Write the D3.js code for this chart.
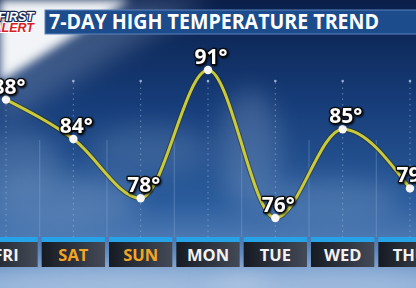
<!DOCTYPE html>
<html>
<head>
<meta charset="utf-8">
<script src="https://cdn.jsdelivr.net/npm/d3@7"></script>
<style>
  html, body { margin: 0; padding: 0; background: #0b2350; }
  svg { display: block; }
</style>
</head>
<body>
<svg id="chart" width="416" height="288"></svg>
<script>
// data read from the graphic
const days = ["FRI", "SAT", "SUN", "MON", "TUE", "WED", "THU"];
const highs = [88, 84, 78, 91, 76, 85, 79];
const weekendDays = ["SAT", "SUN"];
const title = "7-DAY HIGH TEMPERATURE TREND";

const W = 416, H = 288;
const svg = d3.select("#chart");
const defs = svg.append("defs");

// sky background
const sky = defs.append("linearGradient").attr("id", "sky")
  .attr("x1", 0).attr("y1", 0).attr("x2", 0).attr("y2", 1);
sky.append("stop").attr("offset", "0%").attr("stop-color", "#0a1f4a");
sky.append("stop").attr("offset", "35%").attr("stop-color", "#163c78");
sky.append("stop").attr("offset", "70%").attr("stop-color", "#2b5c9c");
sky.append("stop").attr("offset", "100%").attr("stop-color", "#7aa0d0");

defs.append("filter").attr("id", "blur").attr("x", "-50%").attr("y", "-50%")
  .attr("width", "200%").attr("height", "200%")
  .append("feGaussianBlur").attr("stdDeviation", 12);
defs.append("filter").attr("id", "blurS").attr("x", "-50%").attr("y", "-50%")
  .attr("width", "200%").attr("height", "200%")
  .append("feGaussianBlur").attr("stdDeviation", 5);

const shadow = defs.append("filter").attr("id", "shadow")
  .attr("x", "-30%").attr("y", "-30%").attr("width", "160%").attr("height", "160%");
shadow.append("feDropShadow").attr("dx", 1).attr("dy", 1)
  .attr("stdDeviation", 1.2).attr("flood-color", "#000").attr("flood-opacity", 0.9);

const box = defs.append("linearGradient").attr("id", "box")
  .attr("x1", 0).attr("y1", 0).attr("x2", 1).attr("y2", 0);
box.append("stop").attr("offset", "0%").attr("stop-color", "#161a22");
box.append("stop").attr("offset", "100%").attr("stop-color", "#434a57");

svg.append("rect").attr("width", W).attr("height", H).attr("fill", "url(#sky)");

// clouds and light streaks
const bg = svg.append("g");
bg.append("polygon").attr("points", "0,0 210,0 0,125")
  .attr("fill", "#7088ae").attr("opacity", 0.45).attr("filter", "url(#blur)");
bg.append("polygon").attr("points", "0,0 130,0 0,82")
  .attr("fill", "#f2f4f7").attr("filter", "url(#blurS)");
[[60, 200, 80, 25, 0.25], [250, 150, 30, 60, 0.22], [330, 200, 70, 20, 0.2],
 [150, 150, 60, 25, 0.15], [120, 285, 150, 22, 0.6], [330, 285, 120, 22, 0.55],
 [20, 160, 40, 30, 0.2]]
  .forEach(c => bg.append("ellipse").attr("cx", c[0]).attr("cy", c[1])
    .attr("rx", c[2]).attr("ry", c[3]).attr("fill", "#bcd0e8")
    .attr("opacity", c[4]).attr("filter", "url(#blur)"));

// scales
const x = d3.scalePoint().domain(days).range([6, 410]);
const y = d3.scaleLinear().domain([76, 91]).range([218, 70]);
const step = x.step();

// grid lines
const grid = svg.append("g");
grid.selectAll("line.day").data(days).join("line").attr("class", "day")
  .attr("x1", d => x(d)).attr("x2", d => x(d))
  .attr("y1", 82).attr("y2", 237)
  .attr("stroke", "#9fbbe0").attr("stroke-width", 1)
  .attr("stroke-dasharray", "1.5,4").attr("opacity", 0.55);
grid.selectAll("circle.top").data(days).join("circle").attr("class", "top")
  .attr("cx", d => x(d)).attr("cy", 81).attr("r", 1.3)
  .attr("fill", "#b8cdea").attr("opacity", 0.8);
grid.selectAll("line.mid").data(days).join("line").attr("class", "mid")
  .attr("x1", d => x(d) + step / 2).attr("x2", d => x(d) + step / 2)
  .attr("y1", 140).attr("y2", 237)
  .attr("stroke", "#8fb0dc").attr("stroke-width", 1.2).attr("opacity", 0.3);

// day boxes
const boxW = step - 4;
const dayG = svg.append("g").selectAll("g").data(days).join("g");
dayG.append("rect").attr("x", d => x(d) - boxW / 2).attr("y", 237)
  .attr("width", boxW).attr("height", 5).attr("fill", "#27a2e6");
dayG.append("rect").attr("x", d => x(d) - boxW / 2).attr("y", 242)
  .attr("width", boxW).attr("height", 25).attr("fill", "url(#box)");
dayG.append("text").attr("x", d => x(d)).attr("y", 261)
  .attr("text-anchor", "middle")
  .attr("font-family", "Open Sans, sans-serif").attr("font-weight", 700)
  .attr("font-size", 16.5)
  .attr("fill", d => weekendDays.includes(d) ? "#f4a623" : "#f2f2f2")
  .text(d => d);

// temperature line
const pts = days.map((d, i) => [x(d), y(highs[i])]);
const line = d3.line().curve(d3.curveMonotoneX);
svg.append("path").attr("d", line(pts)).attr("fill", "none")
  .attr("stroke", "#2a2a10").attr("stroke-opacity", 0.5).attr("stroke-width", 5);
svg.append("path").attr("d", line(pts)).attr("fill", "none")
  .attr("stroke", "#c9c93c").attr("stroke-width", 3);

svg.append("g").selectAll("circle").data(pts).join("circle")
  .attr("cx", d => d[0]).attr("cy", d => d[1]).attr("r", 4.2)
  .attr("fill", "#f7f7f7");

svg.append("g").selectAll("text").data(days).join("text")
  .attr("x", d => x(d) + 3)
  .attr("y", (d, i) => y(highs[i]) - 6)
  .attr("text-anchor", "middle")
  .attr("font-family", "Open Sans, sans-serif").attr("font-weight", 700)
  .attr("font-size", 21)
  .attr("fill", "#ffffff").attr("stroke", "#0a0a0a").attr("stroke-width", 2.5)
  .attr("paint-order", "stroke").attr("stroke-linejoin", "round")
  .attr("filter", "url(#shadow)")
  .text((d, i) => highs[i] + "°");

// title bar
svg.append("rect").attr("x", 45).attr("y", 10).attr("width", 373).attr("height", 24)
  .attr("fill", "#1c4c8c").attr("stroke", "#5b84bb").attr("stroke-width", 1);
svg.append("text").attr("x", 49).attr("y", 29)
  .attr("font-family", "Open Sans, sans-serif").attr("font-weight", 700)
  .attr("font-size", 21).attr("fill", "#ffffff")
  .attr("textLength", 330).attr("lengthAdjust", "spacingAndGlyphs")
  .text(title);

// logo (cut off at left edge)
const logo = svg.append("g").attr("font-family", "Liberation Sans, Arial, sans-serif")
  .attr("font-weight", 700).attr("font-style", "italic")
  .attr("text-anchor", "end").attr("paint-order", "stroke")
  .attr("stroke-linejoin", "round");
logo.append("text").attr("x", 34).attr("y", 20.5).attr("font-size", 12.5)
  .attr("fill", "#ffffff").attr("stroke", "#1a2a55").attr("stroke-width", 2.5)
  .text("FIRST");
logo.append("text").attr("x", 34).attr("y", 32).attr("font-size", 12.5)
  .attr("fill", "#d8201e").attr("stroke", "#ffffff").attr("stroke-width", 2)
  .text("ALERT");
</script>
</body>
</html>
